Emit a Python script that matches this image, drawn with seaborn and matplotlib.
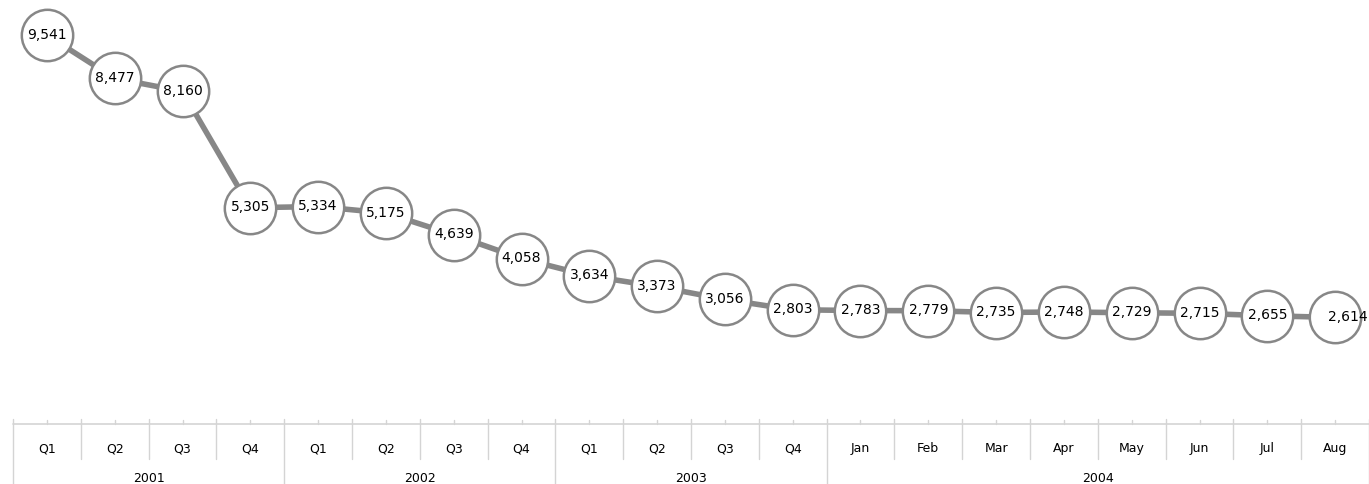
import numpy as np
import pandas as pd
import matplotlib
matplotlib.use("Agg")
import matplotlib.pyplot as plt
import matplotlib.transforms as mtransforms
import seaborn as sns

# ######################### Data #########################

PERIODS = ["Q1", "Q2", "Q3", "Q4",
           "Q1", "Q2", "Q3", "Q4",
           "Q1", "Q2", "Q3", "Q4",
           "Jan", "Feb", "Mar", "Apr", "May", "Jun", "Jul", "Aug"]
YEARS = ["2001"] * 4 + ["2002"] * 4 + ["2003"] * 4 + ["2004"] * 8
VALUES = [9541, 8477, 8160, 5305,
          5334, 5175, 4639, 4058,
          3634, 3373, 3056, 2803,
          2783, 2779, 2735, 2748, 2729, 2715, 2655, 2614]

LINE_GREY = "#878787"
AXIS_GREY = "#d4d4d4"

# ######################### Plot #########################

sns.set_theme(style="white")
plt.rcParams["font.family"] = ["DejaVu Sans"]

df = pd.DataFrame({"idx": np.arange(len(VALUES)), "value": VALUES,
                   "period": PERIODS, "year": YEARS})

fig = plt.figure(figsize=(13.69, 4.85), dpi=100)
ax = fig.add_axes([13 / 1369, 60 / 485, 1356 / 1369, 425 / 485])

sns.lineplot(data=df, x="idx", y="value", ax=ax, color=LINE_GREY,
             linewidth=4, marker="o", markersize=37,
             markerfacecolor="white", markeredgecolor=LINE_GREY,
             markeredgewidth=1.8)

for i, v in enumerate(VALUES):
    dx = 9 if i == len(VALUES) - 1 else 0
    ax.annotate(f"{v:,}", xy=(i, v), xytext=(dx, 1), textcoords="offset points",
                ha="center", va="center", fontsize=10, color="black")

ax.set_xlim(-0.5, len(VALUES) - 0.5)
ax.set_ylim(0, 10425)
ax.set_xlabel("")
ax.set_ylabel("")
ax.set_xticks([])
ax.set_yticks([])
for s in ax.spines.values():
    s.set_visible(False)

# ######################### Two-level category axis #########################

trans = mtransforms.blended_transform_factory(ax.transData, ax.transAxes)
ax.plot([-0.5, len(VALUES) - 0.5], [0, 0], transform=trans, color=AXIS_GREY,
        linewidth=1.2, clip_on=False)

for i, p in enumerate(PERIODS):
    ax.plot([i, i], [0, 0.009], transform=trans, color=AXIS_GREY,
            linewidth=1, clip_on=False)
    ax.text(i, -0.056, p, transform=trans, ha="center", va="center",
            fontsize=9, color="black")

for i in range(len(PERIODS) + 1):
    x = i - 0.5
    new_year = i == 0 or i == len(PERIODS) or YEARS[i] != YEARS[i - 1]
    bottom = -0.16 if new_year else -0.082
    ax.plot([x, x], [0.012, bottom], transform=trans, color=AXIS_GREY,
            linewidth=1, clip_on=False)

for year in dict.fromkeys(YEARS):
    pos = [i for i, y in enumerate(YEARS) if y == year]
    ax.text(np.mean(pos), -0.125, year, transform=trans, ha="center",
            va="center", fontsize=9, color="black")

fig.savefig("out.png", dpi=100)
